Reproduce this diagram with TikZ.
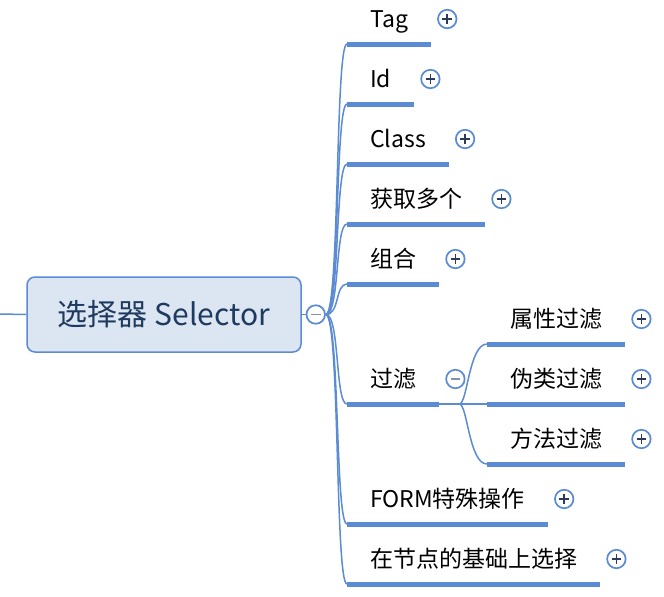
\documentclass[tikz,border=0pt]{standalone}
\usepackage{fontspec}
\setmainfont{Noto Sans CJK SC}
\usetikzlibrary{positioning}
\definecolor{mapblue}{HTML}{5B8BD2}
\definecolor{rootfill}{HTML}{DCE6F2}
\definecolor{rootink}{HTML}{1F3A5F}
\definecolor{signink}{HTML}{2C3B5A}
\definecolor{minusink}{HTML}{8391AE}
\tikzstyle{link} = [draw=mapblue, line width=1.5pt]
\tikzstyle{bar} = [draw=mapblue, line width=5pt]
\tikzstyle{rootTopic} = [
  rectangle,
  rounded corners=8pt,
  draw=mapblue,
  line width=1.5pt,
  fill=rootfill,
  text=rootink,
  minimum width=274pt,
  minimum height=75pt,
  font=\fontsize{30}{35}\selectfont]
\tikzstyle{subTopic} = [
  anchor=south west,
  inner xsep=23pt,
  inner ysep=0pt,
  text height=16pt,
  text depth=16pt,
  font=\fontsize{23}{27}\selectfont]
\tikzstyle{fold} = [
  circle,
  draw=mapblue,
  fill=white,
  line width=1.7pt,
  minimum size=18.5pt,
  inner sep=0pt]
\tikzstyle{plusFold} = [
  fold,
  path picture={
    \draw[signink, line width=1.8pt]
      ([xshift=-4.8pt]path picture bounding box.center) -- ([xshift=4.8pt]path picture bounding box.center)
      ([yshift=-4.8pt]path picture bounding box.center) -- ([yshift=4.8pt]path picture bounding box.center);}]
\tikzstyle{minusFold} = [
  fold,
  path picture={
    \draw[minusink, line width=1.8pt]
      ([xshift=-4.8pt]path picture bounding box.center) -- ([xshift=4.8pt]path picture bounding box.center);}]

\begin{document}
\begin{tikzpicture}[x=1pt, y=-1pt]
  \useasboundingbox (0,0) rectangle (664,597);
  % root
  \coordinate (parent) at (0,314);
  \node[rootTopic] (root) at (164,314.5) {选择器 Selector};
  \node[minusFold] (rootFold) at ([shift={(14,0)}]root.east) {};
  \draw[link] (parent) -- (root.west);
  \draw[link] (root.east) -- (rootFold.west);
  % topics
  \node[subTopic] (tag) at (347,44) {Tag};
  \node[subTopic] (id) at (347,104) {Id};
  \node[subTopic] (class) at (347,164) {Class};
  \node[subTopic] (many) at (347,224) {获取多个};
  \node[subTopic] (combo) at (347,284) {组合};
  \node[subTopic] (filter) at (347,404) {过滤};
  \node[subTopic] (form) at (347,524) {FORM特殊操作};
  \node[subTopic] (based) at (347,584) {在节点的基础上选择};
  % filter topics
  \node[subTopic] (attr) at (487,344) {属性过滤};
  \node[subTopic] (pseudo) at (487,404) {伪类过滤};
  \node[subTopic] (method) at (487,464) {方法过滤};
  \foreach \t in {tag,id,class,many,combo,filter,form,based,attr,pseudo,method}
    \draw[bar] (\t.south west) -- (\t.south east);
  \foreach \t in {tag,id,class,many,combo,filter,form,based}
    \draw[link] (rootFold.east) .. controls +(14,0) and +(-12,0) .. (\t.south west);
  \draw[link] (filter.south east) -- (pseudo.south west);
  \foreach \t in {attr,method}
    \draw[link] (filter.south east) -- ++(20,0) .. controls +(8,0) and +(-18,0) .. (\t.south west);
  % fold buttons
  \foreach \t in {tag,id,class,many,combo,form,based,attr,pseudo,method}
    \node[plusFold] (\t Fold) at ([shift={(16,-25)}]\t.south east) {};
  \node[minusFold] (filterFold) at ([shift={(16,-25)}]filter.south east) {};
\end{tikzpicture}
\end{document}
